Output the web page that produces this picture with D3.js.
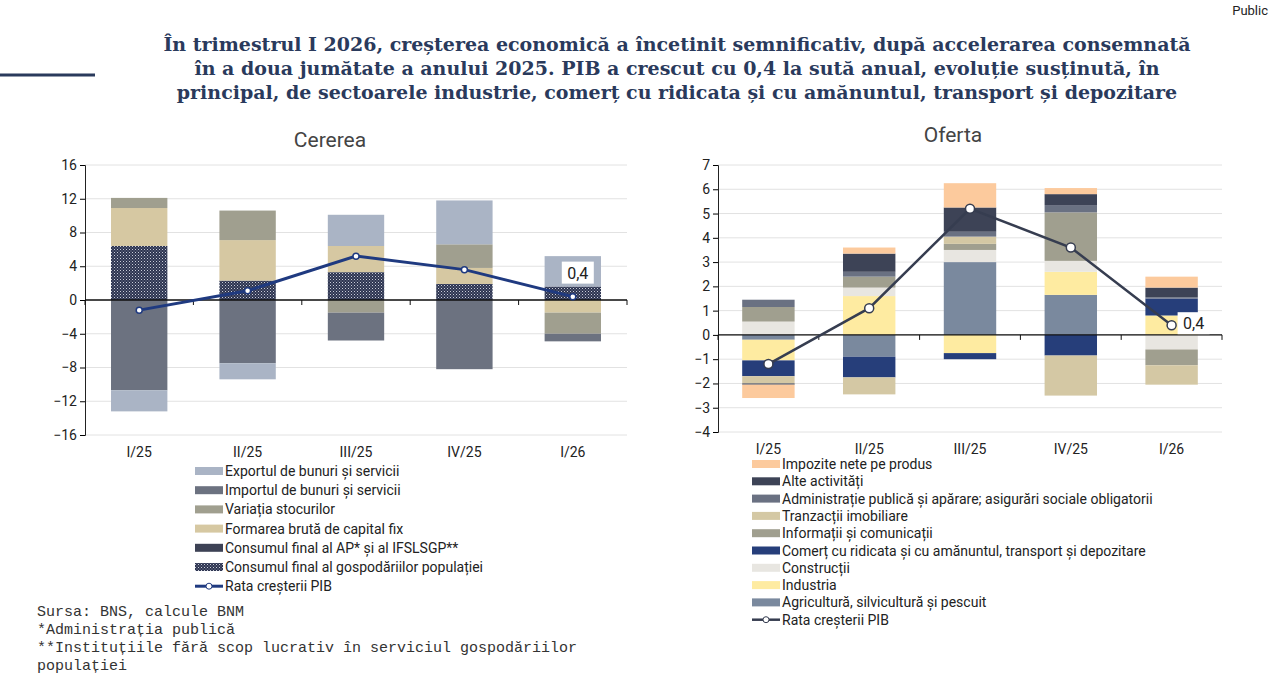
<!DOCTYPE html>
<html><head><meta charset="utf-8">
<script src="https://cdn.jsdelivr.net/npm/d3@7"></script>
<style>
body{margin:0;background:#fff;}
svg{font-family:Roboto,"Liberation Sans",sans-serif;}
</style></head>
<body><svg id="chart" width="1280" height="679"></svg>
<script>
// Data
const quarters = ["I/25", "II/25", "III/25", "IV/25", "I/26"];
const gdpGrowth = [-1.2, 1.1, 5.2, 3.6, 0.4];

// Cererea (demand)
const demandSeries = ["Consumul final al gospodăriilor populației", "Consumul final al AP* și al IFSLSGP**",
  "Formarea brută de capital fix", "Variația stocurilor", "Importul de bunuri și servicii", "Exportul de bunuri și servicii"];
const household = [6.4, 2.3, 3.3, 1.9, 1.6];
const publicAdm = [0, 0, 0, 0, 0];
const fixedCapital = [4.5, 4.8, 3.1, 1.9, -1.5];
const stocks = [1.2, 3.5, -1.5, 2.8, -2.5];
const imports = [-10.7, -7.5, -3.3, -8.2, -0.9];
const exportsV = [-2.5, -1.9, 3.7, 5.2, 3.6];
const demandColors = ["url(#dots)", "#3d4255", "#d6c8a2", "#a09f8f", "#6c7280", "#aab4c5"];
const demandTicks = [16, 12, 8, 4, 0, -4, -8, -12, -16];

// Oferta (supply)
const supplySeries = ["Agricultură, silvicultură și pescuit", "Industria", "Construcții",
  "Comerț cu ridicata și cu amănuntul, transport și depozitare", "Informații și comunicații",
  "Tranzacții imobiliare", "Administrație publică și apărare; asigurări sociale obligatorii",
  "Alte activități", "Impozite nete pe produs"];
const agri = [-0.2, -0.9, 3.0, 1.65, 0];
const industry = [-0.85, 1.6, -0.75, 0.95, 0.8];
const construction = [0.55, 0.35, 0.5, 0.45, -0.6];
const trade = [-0.65, -0.85, -0.25, -0.85, 0.7];
const ict = [0.6, 0.45, 0.25, 2.0, -0.65];
const realEstate = [-0.3, -0.7, 0.3, -1.65, -0.8];
const adminPub = [0.3, 0.2, 0.2, 0.3, 0.05];
const otherAct = [-0.05, 0.75, 1.0, 0.45, 0.4];
const netTaxes = [-0.55, 0.25, 1.0, 0.25, 0.45];
const supplyColors = ["#7a899e", "#feeba1", "#e8e6e1", "#263e7a", "#a09f8f", "#d4c8a4", "#6a7182", "#3d4356", "#fcca9d"];
const supplyTicks = [7, 6, 5, 4, 3, 2, 1, 0, -1, -2, -3, -4];

const svg = d3.select("#chart");
const defs = svg.append("defs");
const pat = defs.append("pattern").attr("id", "dots").attr("width", 3).attr("height", 3)
  .attr("patternUnits", "userSpaceOnUse");
pat.append("rect").attr("width", 3).attr("height", 3).attr("fill", "#2d3450");
pat.append("rect").attr("width", 1).attr("height", 1).attr("fill", "#c8ccd8");
pat.append("rect").attr("x", 1.5).attr("y", 1.5).attr("width", 1).attr("height", 1).attr("fill", "#8d93a8");

// header
svg.append("text").attr("x", 1268).attr("y", 15).attr("text-anchor", "end")
  .attr("font-size", 13).attr("fill", "#222").text("Public");
svg.append("line").attr("x1", 0).attr("x2", 95).attr("y1", 75).attr("y2", 75)
  .attr("stroke", "#2a3a5c").attr("stroke-width", 3);
const titleLines = ["În trimestrul I 2026, creșterea economică a încetinit semnificativ, după accelerarea consemnată",
  "în a doua jumătate a anului 2025. PIB a crescut cu 0,4 la sută anual, evoluție susținută, în",
  "principal, de sectoarele industrie, comerț cu ridicata și cu amănuntul, transport și depozitare"];
svg.append("g").selectAll("text").data(titleLines).join("text")
  .attr("x", 677).attr("y", (d, i) => 51 + i * 24).attr("text-anchor", "middle")
  .attr("font-family", "'DejaVu Serif',serif").attr("font-weight", "bold")
  .attr("font-size", 19).attr("fill", "#2a3a5c").text(d => d);

function drawPanel(cfg) {
  const g = svg.append("g");
  const x = d3.scaleBand().domain(quarters).range([cfg.x0, cfg.x1]).paddingInner(0.48).paddingOuter(0.24);
  const y = d3.scaleLinear().domain([cfg.ticks[cfg.ticks.length - 1], cfg.ticks[0]]).range([cfg.y1, cfg.y0]);
  g.append("text").attr("x", cfg.titleX).attr("y", cfg.titleY).attr("text-anchor", "middle")
    .attr("font-size", 21).attr("fill", "#444").text(cfg.title);
  g.append("g").selectAll("line").data(cfg.ticks).join("line")
    .attr("x1", cfg.x0).attr("x2", cfg.x1).attr("y1", d => y(d)).attr("y2", d => y(d))
    .attr("stroke", "#e2e2e2");
  const rows = quarters.map((q, i) => {
    const r = { q };
    cfg.series.forEach((s, k) => r[s] = cfg.values[k][i]);
    return r;
  });
  const stack = d3.stack().keys(cfg.series).offset(d3.stackOffsetDiverging)(rows);
  g.append("g").selectAll("g").data(stack).join("g")
    .attr("fill", (d, k) => cfg.colors[k])
    .selectAll("rect").data(d => d).join("rect")
    .attr("x", d => x(d.data.q)).attr("width", x.bandwidth())
    .attr("y", d => y(Math.max(d[0], d[1]))).attr("height", d => Math.abs(y(d[0]) - y(d[1])));
  const ya = g.append("g").attr("transform", `translate(${cfg.x0},0)`)
    .call(d3.axisLeft(y).tickValues(cfg.ticks).tickSize(5).tickFormat(d3.format("d")));
  ya.select(".domain").attr("stroke", "#222");
  ya.selectAll("text").attr("font-size", 14).attr("fill", "#222").attr("font-family", "Roboto");
  const step = x.step();
  const xa = g.append("g").attr("transform", `translate(0,${y(0)})`);
  xa.append("line").attr("x1", cfg.x0).attr("x2", cfg.x1).attr("stroke", "#111").attr("stroke-width", 1.3);
  xa.selectAll("line.t").data(d3.range(quarters.length + 1)).join("line").attr("class", "t")
    .attr("x1", (d) => cfg.x0 + d * (cfg.x1 - cfg.x0) / quarters.length)
    .attr("x2", (d) => cfg.x0 + d * (cfg.x1 - cfg.x0) / quarters.length)
    .attr("y1", 0).attr("y2", 5).attr("stroke", "#111");
  g.append("g").selectAll("text").data(quarters).join("text")
    .attr("x", d => x(d) + x.bandwidth() / 2).attr("y", cfg.y1 + 22).attr("text-anchor", "middle")
    .attr("font-size", 14).attr("fill", "#222").text(d => d);
  const line = d3.line().x((d, i) => x(quarters[i]) + x.bandwidth() / 2).y(d => y(d));
  g.append("path").datum(gdpGrowth).attr("d", line).attr("fill", "none")
    .attr("stroke", cfg.lineColor).attr("stroke-width", cfg.lineWidth);
  g.append("g").selectAll("circle").data(gdpGrowth).join("circle")
    .attr("cx", (d, i) => x(quarters[i]) + x.bandwidth() / 2).attr("cy", d => y(d))
    .attr("r", cfg.r).attr("fill", "#fff").attr("stroke", cfg.lineColor).attr("stroke-width", 1.5);
  const last = gdpGrowth.length - 1;
  const lx = x(quarters[last]) + x.bandwidth() / 2 + cfg.labelDx, ly = y(gdpGrowth[last]) + cfg.labelDy;
  g.append("rect").attr("x", lx - 16).attr("y", ly - 13).attr("width", 32).attr("height", 22).attr("fill", "#fff");
  g.append("text").attr("x", lx).attr("y", ly + 4).attr("text-anchor", "middle")
    .attr("font-size", 16).attr("fill", "#222").text("0,4");
  // legend
  const leg = g.append("g").selectAll("g").data(cfg.legend).join("g")
    .attr("transform", (d, i) => `translate(${cfg.legX},${cfg.legY + i * cfg.legStep})`);
  leg.each(function (d) {
    const s = d3.select(this);
    if (d.line) {
      s.append("line").attr("x1", 0).attr("x2", 28).attr("stroke", cfg.lineColor).attr("stroke-width", cfg.lineWidth);
      s.append("circle").attr("cx", 14).attr("r", 3).attr("fill", "#fff").attr("stroke", cfg.lineColor);
    } else {
      s.append("rect").attr("x", 0).attr("y", -4).attr("width", 28).attr("height", 8).attr("fill", d.color);
    }
    s.append("text").attr("x", 30).attr("y", 5).attr("font-size", 14).attr("fill", "#222").text(d.name);
  });
}

const demandValues = [household, publicAdm, fixedCapital, stocks, imports, exportsV];
drawPanel({
  title: "Cererea", titleX: 330, titleY: 147, x0: 85, x1: 627, y0: 165, y1: 435,
  ticks: demandTicks, series: demandSeries, values: demandValues, colors: demandColors,
  lineColor: "#1f3a80", lineWidth: 3, r: 3, labelDx: 5, labelDy: -22,
  legX: 195, legY: 471, legStep: 19.2,
  legend: [5, 4, 3, 2, 1, 0].map(k => ({ name: demandSeries[k], color: demandColors[k] }))
    .concat([{ name: "Rata creșterii PIB", line: true }])
});

const supplyValues = [agri, industry, construction, trade, ict, realEstate, adminPub, otherAct, netTaxes];
drawPanel({
  title: "Oferta", titleX: 953, titleY: 142, x0: 718, x1: 1222, y0: 165, y1: 432,
  ticks: supplyTicks, series: supplySeries, values: supplyValues, colors: supplyColors,
  lineColor: "#363d50", lineWidth: 2.5, r: 4.5, labelDx: 22, labelDy: 0,
  legX: 752, legY: 464, legStep: 17.3,
  legend: [8, 7, 6, 5, 4, 3, 2, 1, 0].map(k => ({ name: supplySeries[k], color: supplyColors[k] }))
    .concat([{ name: "Rata creșterii PIB", line: true }])
});

// source
const notes = ["Sursa: BNS, calcule BNM", "*Administrația publică",
  "**Instituțiile fără scop lucrativ în serviciul gospodăriilor", "populației"];
svg.append("g").selectAll("text").data(notes).join("text")
  .attr("x", 37).attr("y", (d, i) => 616 + i * 18).attr("font-family", "'Liberation Mono',monospace")
  .attr("font-size", 15).attr("fill", "#333").text(d => d);
</script></body></html>
